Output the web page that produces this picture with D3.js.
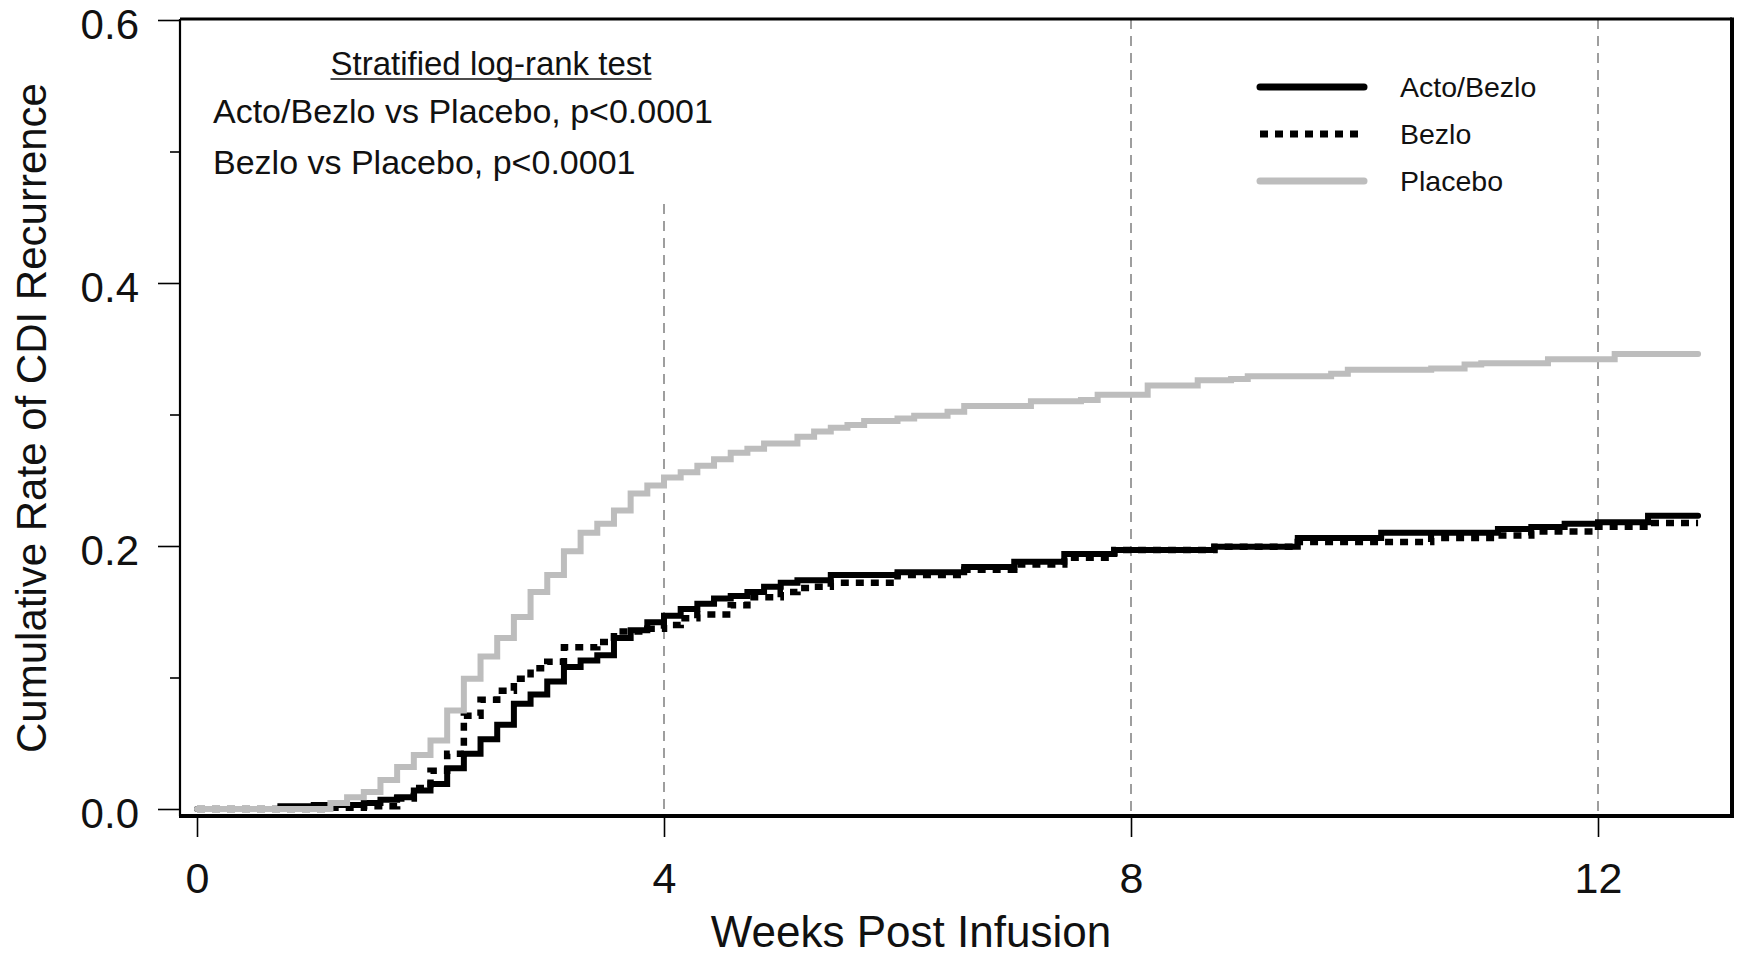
<!DOCTYPE html>
<html>
<head>
<meta charset="utf-8">
<script src="https://cdn.jsdelivr.net/npm/d3@7"></script>
<style>
body{margin:0;background:#fff;}
text{font-family:"Liberation Sans",Arial,Helvetica,sans-serif;fill:#111;}
</style>
</head>
<body>
<div class="visHolder"></div>
<script>
// KM-style cumulative recurrence, step changes per day
const actoDays=[0,5,7,10,11,12,13,14,15,16,17,18,19,20,21,22,23,24,25,26,27,28,29,30,31,32,33,34,35,36,38,42,46,49,52,55,61,66,71,78,80,82,84,87,90];
const actoRate=[0,0.002,0.003,0.0045,0.007,0.009,0.014,0.019,0.031,0.042,0.053,0.064,0.080,0.087,0.097,0.108,0.113,0.117,0.130,0.136,0.142,0.147,0.152,0.156,0.160,0.162,0.165,0.169,0.172,0.174,0.178,0.180,0.184,0.188,0.194,0.197,0.1995,0.206,0.210,0.213,0.2145,0.217,0.218,0.223,0.223];

const bezloDays=[0,8,10,12,13,14,15,16,17,18,19,20,21,22,24,25,27,28,29,30,32,33,35,36,37,38,42,46,49,52,55,61,66,74,78,80,84,87,90];
const bezloRate=[0,0.001,0.002,0.008,0.016,0.029,0.042,0.071,0.083,0.090,0.099,0.107,0.112,0.123,0.127,0.135,0.137,0.140,0.145,0.148,0.155,0.161,0.165,0.168,0.169,0.172,0.178,0.182,0.186,0.191,0.197,0.1995,0.203,0.206,0.208,0.211,0.2147,0.2175,0.2175];

const placeboDays=[0,8,9,10,11,12,13,14,15,16,17,18,19,20,21,22,23,24,25,26,27,28,29,30,31,32,33,34,36,37,38,39,40,42,43,45,46,50,53,54,57,60,62,63,68,69,74,76,77,81,85,90];
const placeboRate=[0,0.0045,0.009,0.013,0.022,0.032,0.041,0.052,0.075,0.099,0.116,0.130,0.146,0.165,0.178,0.196,0.210,0.217,0.227,0.240,0.246,0.252,0.256,0.261,0.266,0.271,0.274,0.278,0.283,0.287,0.290,0.292,0.295,0.297,0.299,0.302,0.3065,0.310,0.311,0.315,0.322,0.326,0.327,0.329,0.331,0.334,0.335,0.338,0.339,0.342,0.346,0.346];

const seriesNames=["Acto/Bezlo","Bezlo","Placebo"];
const xTicks=[0,4,8,12];
const yMajor=[0,0.2,0.4,0.6];
const yMinor=[0.1,0.3,0.5];
const xTitle="Weeks Post Infusion";
const yTitle="Cumulative Rate of CDI Recurrence";
const testTitle="Stratified log-rank test";
const testLines=["Acto/Bezlo vs Placebo, p<0.0001","Bezlo vs Placebo, p<0.0001"];

const W=1744,H=957;
const boxL=180,boxR=1732,boxT=19,boxB=816;

const svg=d3.select(".visHolder").append("svg")
  .attr("width",W).attr("height",H);

const x=d3.scaleLinear().domain([0,12]).range([197,1598]);
const y=d3.scaleLinear().domain([0,0.6]).range([809,20]);

// dashed verticals
svg.append("g").selectAll("line")
  .data(xTicks.filter(d=>d>0))
  .enter().append("line")
  .attr("x1",d=>x(d)).attr("x2",d=>x(d))
  .attr("y1",d=>d==4?y(0.46):boxT)
  .attr("y2",boxB)
  .attr("stroke","#8e8e8e")
  .attr("stroke-width",1.7)
  .attr("stroke-dasharray","10,7");

// curves
const line=d3.line()
  .x(d=>x(d[0]/7))
  .y(d=>y(d[1]))
  .curve(d3.curveStepAfter);

const series=[
  {name:seriesNames[0],pts:d3.zip(actoDays,actoRate),color:"#000",w:6,dash:null,cap:"round"},
  {name:seriesNames[1],pts:d3.zip(bezloDays,bezloRate),color:"#000",w:6.5,dash:"8,7",cap:"butt"},
  {name:seriesNames[2],pts:d3.zip(placeboDays,placeboRate),color:"#bdbdbd",w:6,dash:null,cap:"round"}
];

svg.append("g").selectAll("path")
  .data(series)
  .enter().append("path")
  .attr("d",d=>line(d.pts))
  .attr("fill","none")
  .attr("stroke",d=>d.color)
  .attr("stroke-width",d=>d.w)
  .attr("stroke-dasharray",d=>d.dash)
  .attr("stroke-linecap",d=>d.cap)
  .attr("stroke-linejoin","miter");

// frame
const frame=svg.append("g").attr("stroke","#000");
frame.append("line").attr("x1",boxL).attr("x2",boxR).attr("y1",boxT).attr("y2",boxT).attr("stroke-width",3);
frame.append("line").attr("x1",boxL).attr("x2",boxL).attr("y1",boxT).attr("y2",boxB).attr("stroke-width",2.2);
frame.append("line").attr("x1",boxR).attr("x2",boxR).attr("y1",boxT-1.5).attr("y2",boxB+2).attr("stroke-width",4);
frame.append("line").attr("x1",boxL-1).attr("x2",boxR+2).attr("y1",boxB).attr("y2",boxB).attr("stroke-width",4);

// y axis
const yAxis=svg.append("g")
  .attr("transform","translate("+boxL+",0)")
  .call(d3.axisLeft(y).tickValues(yMajor).tickSize(22).tickPadding(19).tickFormat(d3.format(".1f")));
yAxis.select(".domain").remove();
yAxis.selectAll("line").attr("stroke","#000").attr("stroke-width",1.6);
yAxis.selectAll("text").attr("font-size",42).attr("dy","0.43em").attr("fill","#111");

const yMin=svg.append("g")
  .attr("transform","translate("+boxL+",0)")
  .call(d3.axisLeft(y).tickValues(yMinor).tickSize(10).tickFormat(""));
yMin.select(".domain").remove();
yMin.selectAll("line").attr("stroke","#000").attr("stroke-width",1.6);

// x axis
const xAxis=svg.append("g")
  .attr("transform","translate(0,"+boxB+")")
  .call(d3.axisBottom(x).tickValues(xTicks).tickSize(21).tickPadding(25));
xAxis.select(".domain").remove();
xAxis.selectAll("line").attr("stroke","#000").attr("stroke-width",1.6);
xAxis.selectAll("text").attr("font-size",43).attr("fill","#111");

// axis titles
svg.append("text")
  .attr("x",911).attr("y",947)
  .attr("text-anchor","middle")
  .attr("font-size",44)
  .text(xTitle);

svg.append("text")
  .attr("transform","translate(46,418) rotate(-90)")
  .attr("text-anchor","middle")
  .attr("font-size",42)
  .text(yTitle);

// test annotation
const tt=svg.append("text")
  .attr("x",491).attr("y",75)
  .attr("text-anchor","middle")
  .attr("font-size",33)
  .text(testTitle);
const tw=tt.node().getComputedTextLength();
svg.append("line")
  .attr("x1",491-tw/2).attr("x2",491+tw/2)
  .attr("y1",79).attr("y2",79)
  .attr("stroke","#111").attr("stroke-width",1.6);

svg.selectAll(".ptest")
  .data(testLines)
  .enter().append("text")
  .attr("class","ptest")
  .attr("x",213)
  .attr("y",(d,i)=>123+i*51)
  .attr("font-size",34)
  .text(d=>d);

// legend
const lg=svg.append("g");
const rows=lg.selectAll("g")
  .data(series)
  .enter().append("g")
  .attr("transform",(d,i)=>"translate(0,"+[87,134,181][i]+")");
rows.append("line")
  .attr("x1",1260).attr("x2",1364)
  .attr("stroke",d=>d.color)
  .attr("stroke-width",7)
  .attr("stroke-dasharray",d=>d.dash)
  .attr("stroke-linecap",d=>d.cap);
rows.append("text")
  .attr("x",1400).attr("y",10)
  .attr("font-size",28.5)
  .text(d=>d.name);
</script>
</body>
</html>
